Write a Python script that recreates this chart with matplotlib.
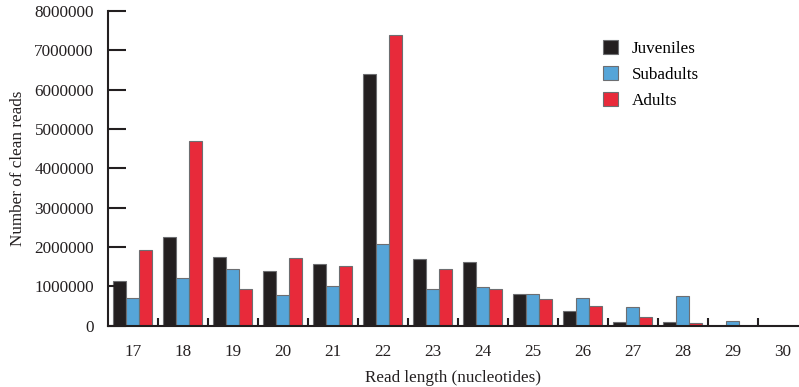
import numpy as np
import matplotlib.pyplot as plt

# Read length distribution of clean reads
lengths = ["17", "18", "19", "20", "21", "22", "23", "24", "25", "26", "27", "28", "29", "30"]
juveniles = [1130000, 2260000, 1760000, 1390000, 1570000, 6400000, 1710000, 1630000,
             810000, 380000, 110000, 110000, 0, 0]
subadults = [700000, 1220000, 1450000, 790000, 1000000, 2070000, 930000, 980000,
             810000, 720000, 470000, 760000, 120000, 0]
adults = [1930000, 4700000, 930000, 1720000, 1530000, 7390000, 1440000, 930000,
          690000, 500000, 220000, 80000, 0, 0]

plt.rcParams['font.family'] = ['Liberation Serif', 'DejaVu Serif']
fs = 12.3

fig = plt.figure(figsize=(7.99, 3.87), dpi=100)
ax = fig.add_axes([0.135, 0.158, 0.865, 0.814])

x = np.arange(len(lengths))
w = 0.26
edge = '#6d6e71'
ax.bar(x - w, juveniles, w, color='#231f20', edgecolor=edge, linewidth=0.8, label='Juveniles')
ax.bar(x, subadults, w, color='#56a5d8', edgecolor=edge, linewidth=0.8, label='Subadults')
ax.bar(x + w, adults, w, color='#e82a3a', edgecolor=edge, linewidth=0.8, label='Adults')

ax.set_xlim(-0.5, 13.32)
ax.set_ylim(0, 8000000)
ax.set_yticks(np.arange(0, 8000001, 1000000))
ax.set_yticklabels([str(v) for v in range(0, 8000001, 1000000)])
ax.set_xticks(x)
ax.set_xticklabels(lengths)
ax.set_xticks(np.arange(0.5, 13.0, 1.0), minor=True)

for s in ['top', 'right']:
    ax.spines[s].set_visible(False)
for s in ['left', 'bottom']:
    ax.spines[s].set_color('#231f20')
    ax.spines[s].set_linewidth(1.5)

ax.tick_params(axis='y', direction='in', length=13, width=1.5, color='#231f20',
               pad=10, labelsize=fs, labelcolor='#231f20')
ax.tick_params(axis='x', which='major', length=0, pad=13, labelsize=fs, labelcolor='#231f20')
ax.tick_params(axis='x', which='minor', direction='in', length=6, width=1.5, color='#231f20')

ax.set_xlabel('Read length (nucleotides)', fontsize=fs, color='#231f20', labelpad=7)
ax.set_ylabel('Number of clean reads', fontsize=fs, color='#231f20', labelpad=6)

ax.legend(loc='upper left', bbox_to_anchor=(603 / 799, 1 - 40 / 387),
          bbox_transform=fig.transFigure, frameon=False, fontsize=fs,
          borderpad=0, borderaxespad=0,
          handlelength=0.9, handleheight=0.9, handletextpad=0.8, labelspacing=0.52)

fig.savefig('out.png', dpi=100)
